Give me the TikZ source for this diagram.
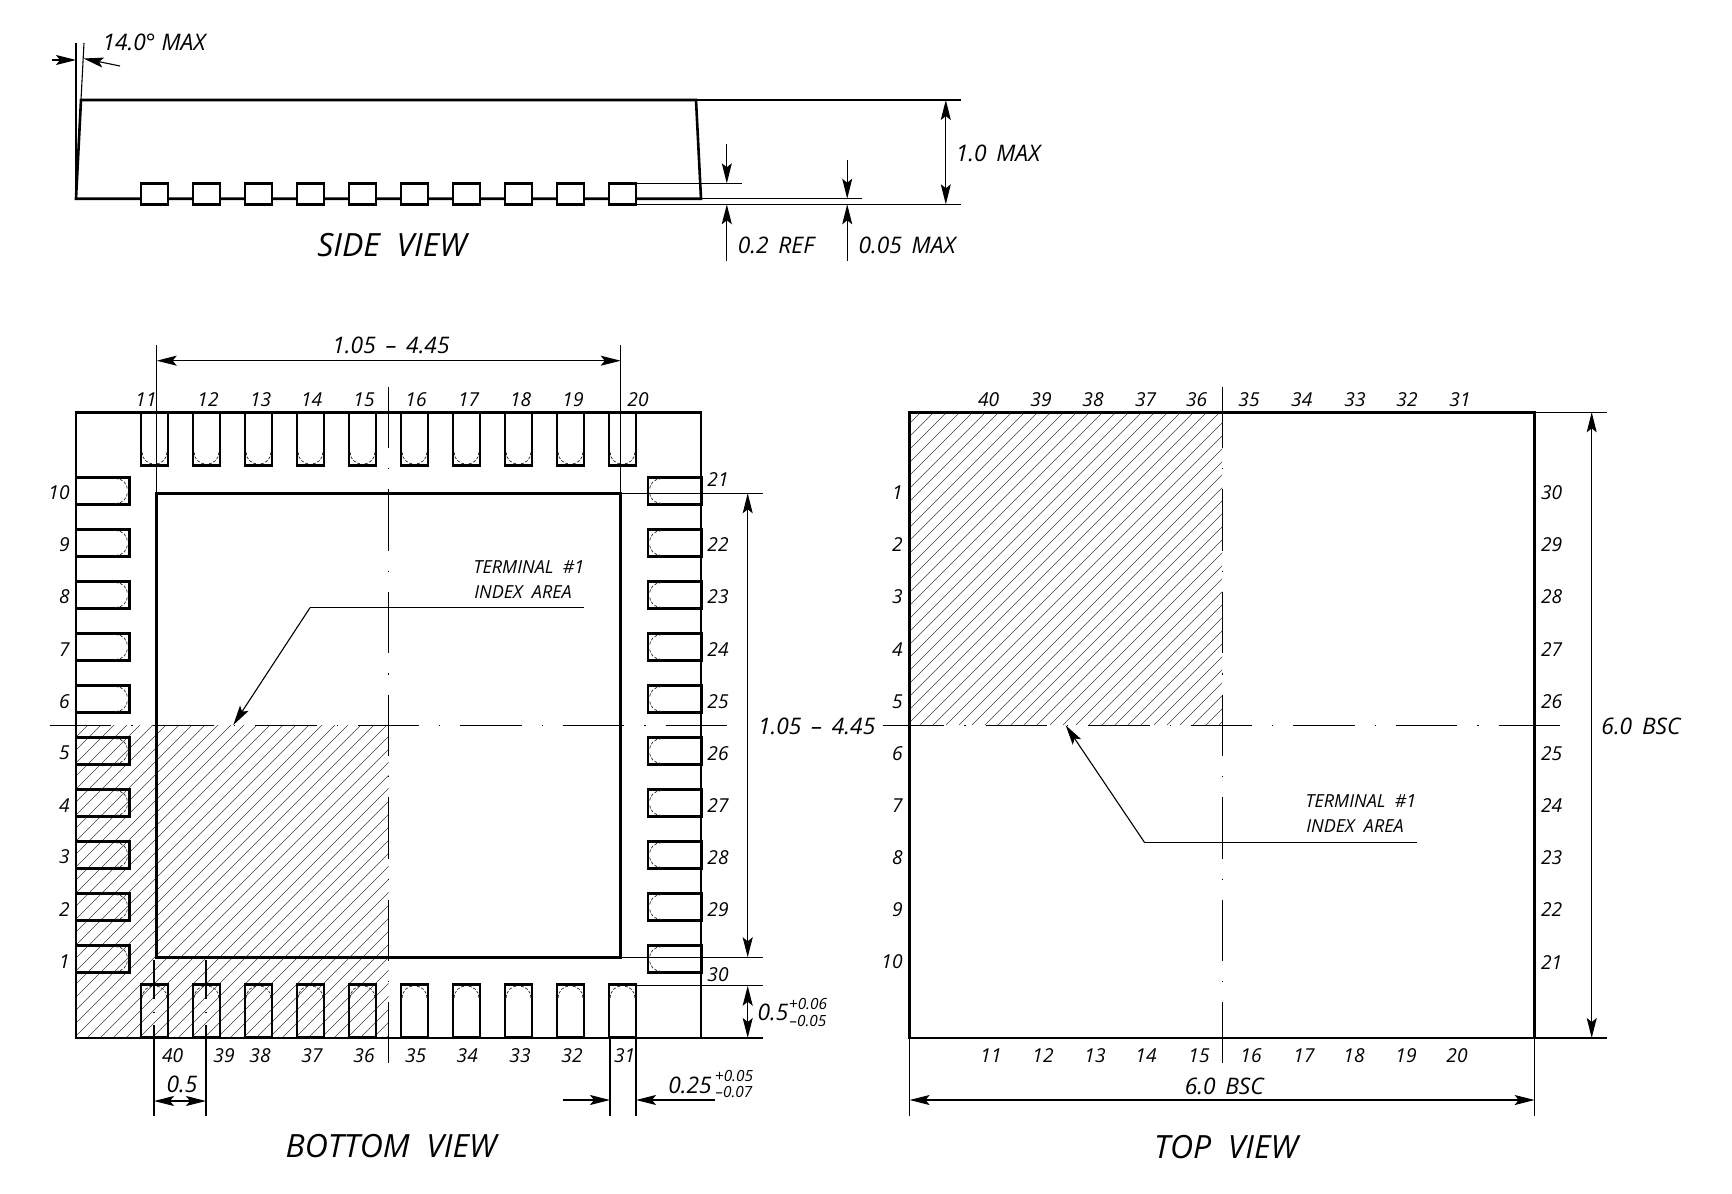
\documentclass[tikz,border=0pt]{standalone}
\usepackage{fontspec}
\setmainfont{Open Sans}
\usetikzlibrary{arrows.meta}
\tikzset{
	x=0.5pt, y=-0.5pt,
	main/.style={line width=1.3pt, line join=miter},
	thin line/.style={line width=0.55pt},
	dim/.style={line width=0.55pt, {Stealth[length=10pt,width=5pt,inset=2pt]}-{Stealth[length=10pt,width=5pt,inset=2pt]}},
	dimto/.style={line width=0.55pt, -{Stealth[length=10pt,width=5pt,inset=2pt]}},
	axisline/.style={line width=0.5pt, dash pattern=on 30.7pt off 10pt on 0.6pt off 10pt},
	hatchline/.style={line width=0.3pt, black!75},
	padarc/.style={line width=0.35pt, black!85, dash pattern=on 1.5pt off 0.8pt},
	pin/.style={font=\itshape\fontsize{9.6}{10}\selectfont, inner sep=0pt},
	size/.style={font=\itshape\fontsize{11.4}{12}\selectfont, inner sep=0pt},
	note/.style={font=\itshape\fontsize{9}{10}\selectfont, inner sep=0pt},
	tol/.style={font=\itshape\fontsize{7.7}{8}\selectfont, inner sep=0pt},
	title/.style={font=\itshape\fontsize{16}{17}\selectfont, inner sep=0pt}
}
\begin{document}
\begin{tikzpicture}
	\useasboundingbox (0,0) rectangle (1732,1193);
	% Hatched quarters
	\begin{scope}
		\clip (76,725) rectangle (388.5,1038);
		\foreach \k in {0,...,48}
			\draw[hatchline] (-238+13*\k,1038) -- ++(314,-314);
	\end{scope}
	\begin{scope}
		\clip (909.6,412.3) rectangle (1222,725);
		\foreach \k in {0,...,48}
			\draw[hatchline] (595+13*\k,725) -- ++(314,-314);
	\end{scope}

	% Side view
	\draw[main] (76,198.7) -- (81,100) -- (696,100) -- (701,198.7) -- cycle;
	\foreach \px in {154.5,206.5,258.5,310.5,362.5,414.5,466.5,518.5,570.5,622.5}
		\draw[main,fill=white] (\px-13.5,183.3) rectangle (\px+13.5,204.3);
	\coordinate (angleleft) at (76,43);
	\coordinate (angleright) at (84,43);
	\draw[thin line] (angleleft) -- (76,198.7);
	\draw[thin line] (angleright) -- (81,100);
	\draw[dimto] (51.7,60) -- (76,60);
	\draw[dimto] (120,66) -- (83.5,58.5);
	\node[size] (anglemax) at (154,42.7) {14.0° MAX};
	\draw[thin line] (696,100) -- (961,100);
	\draw[thin line] (636.5,183.3) -- (742.3,183.3);
	\draw[thin line] (701,198.7) -- (862,198.7);
	\draw[thin line] (636.5,204.3) -- (961,204.3);
	\draw[dim] (945.8,100) -- (945.8,204.3);
	\node[size] (heightmax) at (998,153) {1.0 \,MAX};
	\draw[dimto] (726.8,144.3) -- (726.8,183.3);
	\draw[dimto] (726.8,261) -- (726.8,204.3);
	\node[size] (padref) at (776,245) {0.2 \,REF};
	\draw[dimto] (847.2,160) -- (847.2,198.7);
	\draw[dimto] (847.2,261) -- (847.2,204.3);
	\node[size] (standoff) at (907,245) {0.05 \,MAX};
	\node[title] (sideview) at (392,245) {SIDE ~VIEW};

	% Bottom view
	\draw[main] (76,412.3) rectangle (701,1038);
	\draw[main] (156.7,493.3) rectangle (620.7,957.3);
	\foreach \r in {0,90,180,270}
		\foreach \px in {154.5,206.5,258.5,310.5,362.5,414.5,466.5,518.5,570.5,622.5} {
			\begin{scope}[rotate around={\r:(388.5,725)}]
				\draw[main] (\px-13.5,412.3) rectangle (\px+13.5,465.7);
				\draw[padarc] (\px-12.5,452) .. controls (\px-12.5,459) and (\px-7,464) .. (\px-1,464);
				\draw[padarc] (\px+12.5,452) .. controls (\px+12.5,459) and (\px+7,464) .. (\px+1,464);
			\end{scope}
		}
	\draw[axisline] (50,725) -- (727,725);
	\draw[axisline] (388.7,386.7) -- (388.7,1063.3);
	\foreach \n/\px in {11/146,12/208,13/260.7,14/311.7,15/364,16/416,17/468.7,18/520.7,19/573,20/638}
		\node[pin] (bt\n) at (\px,400) {\n};
	\foreach \n/\px in {40/172.7,39/224,38/260,37/312,36/364,35/415.7,34/467.3,33/520,32/572,31/624.7}
		\node[pin] (bb\n) at (\px,1056) {\n};
	\foreach \n/\py in {10/493,9/545,8/597,7/650,6/702,5/753,4/806,3/857,2/910,1/962}
		\node[pin,anchor=east] (bl\n) at (70,\py) {\n};
	\foreach \n/\py in {21/480,22/545,23/597,24/650,25/702,26/754,27/806,28/858,29/910,30/975}
		\node[pin] (br\n) at (718,\py) {\n};
	% Inner pad sizes
	\draw[thin line] (156.7,345) -- (156.7,493.3);
	\draw[thin line] (620.7,345) -- (620.7,493.3);
	\draw[dim] (156.7,360.7) -- (620.7,360.7);
	\node[size] (padwidth) at (391,345) {1.05 \,–\, 4.45};
	\draw[thin line] (620.7,493.3) -- (763.3,493.3);
	\draw[thin line] (620.7,957.3) -- (763.3,957.3);
	\draw[dim] (747.7,493.3) -- (747.7,957.3);
	\node[size] (padheight) at (816.7,726.7) {1.05 \,–\, 4.45};
	% Terminal sizes
	\draw[thin line] (636.5,985.7) -- (763.3,985.7);
	\draw[thin line] (701,1038) -- (763.3,1038);
	\draw[dim] (747.7,985.7) -- (747.7,1038);
	\node[size] (termlen) at (773,1012.7) {0.5};
	\node[tol] (termlenup) at (808,1004) {+0.06};
	\node[tol] (termlendn) at (808,1020.7) {–0.05};
	\foreach \px in {154,206} {
		\draw[thin line] (\px,960) -- (\px,999);
		\draw[thin line] (\px,1012) -- (\px,1012.8);
		\draw[thin line] (\px,1025) -- (\px,1116);
	}
	\draw[dim] (154,1101) -- (206,1101);
	\node[size] (pitch) at (182,1084) {0.5};
	\draw[thin line] (610,1038) -- (610,1116);
	\draw[thin line] (636,1038) -- (636,1116);
	\draw[dimto] (563.3,1100) -- (610,1100);
	\draw[dimto] (715,1100) -- (636,1100);
	\node[size] (termwid) at (690,1085) {0.25};
	\node[tol] (termwidup) at (734,1076) {+0.05};
	\node[tol] (termwiddn) at (734,1092.3) {–0.07};
	% Index area note
	\node[note] (botterm) at (529,567) {TERMINAL ~\#1};
	\node[note] (botarea) at (523,592) {INDEX ~AREA};
	\coordinate (botend) at (584,607.7);
	\coordinate (botbend) at (310,607.7);
	\coordinate (bottip) at (233.3,725);
	\draw[thin line] (botend) -- (botbend);
	\draw[dimto] (botbend) -- (bottip);
	\node[title] (bottomview) at (391,1146.5) {BOTTOM ~VIEW};

	% Top view
	\draw[main] (909.6,412.3) rectangle (1534.6,1038);
	\draw[axisline] (883,725) -- (1560,725);
	\draw[axisline] (1222,386.7) -- (1222,1063.3);
	\foreach \n/\px in {40/988.7,39/1041,38/1093,37/1145.7,36/1196.7,35/1249,34/1301.8,33/1355,32/1407,31/1460}
		\node[pin] (tt\n) at (\px,400) {\n};
	\foreach \n/\px in {11/991,12/1043,13/1095,14/1146,15/1199,16/1251,17/1304,18/1354,19/1406,20/1457}
		\node[pin] (tb\n) at (\px,1056) {\n};
	\foreach \n/\py in {1/493,2/545,3/597,4/650,5/702,6/754,7/806,8/858,9/910,10/962}
		\node[pin,anchor=east] (tl\n) at (903,\py) {\n};
	\foreach \n/\py in {30/493,29/545,28/597,27/650,26/702,25/754,24/806,23/858,22/910,21/963}
		\node[pin] (tr\n) at (1551.7,\py) {\n};
	% Body sizes
	\draw[thin line] (1534.6,412.3) -- (1606.7,412.3);
	\draw[thin line] (1534.6,1038) -- (1606.7,1038);
	\draw[dim] (1591.7,412.3) -- (1591.7,1038);
	\node[size] (bodyheight) at (1641,726) {6.0 \,BSC};
	\draw[thin line] (909.6,1038) -- (909.6,1115.7);
	\draw[thin line] (1534.6,1038) -- (1534.6,1115.7);
	\draw[dim] (909.6,1100) -- (1534.6,1100);
	\node[size] (bodywidth) at (1224.3,1086) {6.0 \,BSC};
	% Index area note
	\node[note] (topterm) at (1361,800.7) {TERMINAL ~\#1};
	\node[note] (toparea) at (1355,825.7) {INDEX ~AREA};
	\coordinate (topend) at (1416.7,842.7);
	\coordinate (topbend) at (1144.7,842.7);
	\coordinate (toptip) at (1065.7,725.3);
	\draw[thin line] (topend) -- (topbend);
	\draw[dimto] (topbend) -- (toptip);
	\node[title] (topview) at (1226,1147) {TOP ~VIEW};
\end{tikzpicture}
\end{document}
